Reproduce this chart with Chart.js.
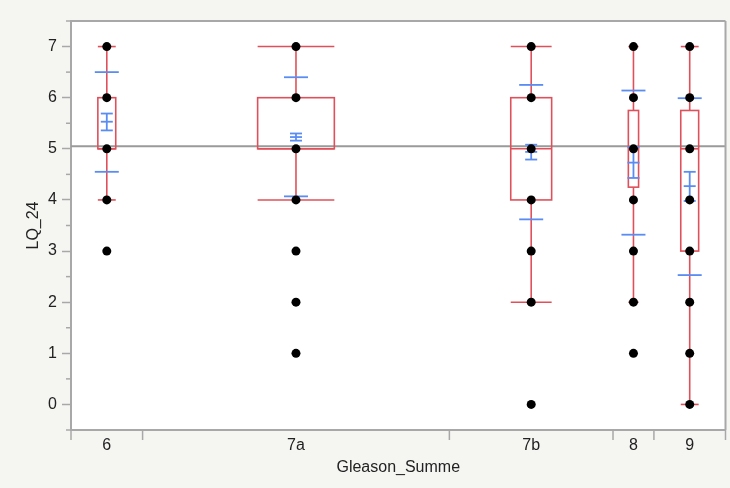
<!DOCTYPE html>
<html>
<head>
<meta charset="utf-8">
<script src="https://cdn.jsdelivr.net/npm/chart.js@4/dist/chart.umd.min.js"></script>
<style>
  body { margin: 0; background: #f5f5f2; }
  #wrap { width: 730px; height: 488px; position: relative; }
</style>
</head>
<body>
<div id="wrap"><canvas id="myChart"></canvas></div>
<script>
let categories = ['6', '7a', '7b', '8', '9'];
let groupN = [14, 60, 32, 8, 14];
let values = [
  [7, 6, 5, 4, 3],
  [7, 6, 5, 4, 3, 2, 1],
  [7, 6, 5, 4, 3, 2, 0],
  [7, 6, 5, 4, 3, 2, 1],
  [7, 6, 5, 4, 3, 2, 1, 0]
];
let q1 = [5, 5, 4, 4.25, 3];
let q3 = [6, 6, 6, 5.75, 5.75];
let median = [5, 5, 5, 5, 5];
let whiskLo = [4, 4, 2, 2, 0];
let whiskHi = [7, 7, 7, 7, 7];
let means = [5.53, 5.23, 4.94, 4.73, 4.27];
let ciLo = [5.36, 5.16, 4.79, 4.43, 3.98];
let ciHi = [5.69, 5.30, 5.08, 5.03, 4.55];
let sdLo = [4.55, 4.07, 3.62, 3.32, 2.53];
let sdHi = [6.50, 6.40, 6.25, 6.14, 5.99];
let grandMean = 5.05;
let yTicks = [0, 1, 2, 3, 4, 5, 6, 7];

let red = '#e0505a';
let blue = '#5a8cf2';
let axisGray = '#a8a8a8';
let font = "'Liberation Sans', Arial, sans-serif";

// group boundaries and centres along the proportional x axis
let bounds = [0];
for (let i = 0; i < groupN.length; i++) bounds.push(bounds[i] + groupN[i]);
let total = bounds[bounds.length - 1];
let centers = groupN.map((n, i) => bounds[i] + n / 2);

let points = [];
for (let i = 0; i < values.length; i++) {
  for (let v of values[i]) points.push({x: centers[i], y: v});
}

function hline(ctx, x1, x2, y) {
  ctx.beginPath(); ctx.moveTo(x1, y); ctx.lineTo(x2, y); ctx.stroke();
}
function vline(ctx, x, y1, y2) {
  ctx.beginPath(); ctx.moveTo(x, y1); ctx.lineTo(x, y2); ctx.stroke();
}

let oneway = {
  id: 'oneway',
  beforeDraw(chart) {
    let {ctx, chartArea: a} = chart;
    ctx.save();
    ctx.fillStyle = '#ffffff';
    ctx.fillRect(a.left, a.top, a.right - a.left, a.bottom - a.top);
    ctx.restore();
  },
  beforeDatasetsDraw(chart) {
    let {ctx, chartArea: a, scales: {x, y}} = chart;
    ctx.save();
    ctx.lineCap = 'butt';
    // grand mean
    ctx.strokeStyle = '#9a9a9a';
    ctx.lineWidth = 2;
    hline(ctx, a.left, a.right, y.getPixelForValue(grandMean));

    for (let i = 0; i < categories.length; i++) {
      let cx = x.getPixelForValue(centers[i]);
      let half = (x.getPixelForValue(bounds[i + 1]) - x.getPixelForValue(bounds[i])) * 0.125;
      ctx.strokeStyle = red;
      ctx.lineWidth = 1.6;
      let top = y.getPixelForValue(q3[i]);
      let bot = y.getPixelForValue(q1[i]);
      ctx.strokeRect(cx - half, top, half * 2, bot - top);
      hline(ctx, cx - half, cx + half, y.getPixelForValue(median[i]));
      vline(ctx, cx, top, y.getPixelForValue(whiskHi[i]));
      vline(ctx, cx, bot, y.getPixelForValue(whiskLo[i]));
      hline(ctx, cx - half, cx + half, y.getPixelForValue(whiskHi[i]));
      hline(ctx, cx - half, cx + half, y.getPixelForValue(whiskLo[i]));

      ctx.strokeStyle = blue;
      ctx.lineWidth = 1.8;
      hline(ctx, cx - 12, cx + 12, y.getPixelForValue(sdHi[i]));
      hline(ctx, cx - 12, cx + 12, y.getPixelForValue(sdLo[i]));
      vline(ctx, cx, y.getPixelForValue(ciHi[i]), y.getPixelForValue(ciLo[i]));
      hline(ctx, cx - 6, cx + 6, y.getPixelForValue(ciHi[i]));
      hline(ctx, cx - 6, cx + 6, y.getPixelForValue(means[i]));
      hline(ctx, cx - 6, cx + 6, y.getPixelForValue(ciLo[i]));
    }
    ctx.restore();
  },
  afterDraw(chart) {
    let {ctx, chartArea: a, scales: {x, y}} = chart;
    ctx.save();
    ctx.strokeStyle = axisGray;
    ctx.lineWidth = 2;
    hline(ctx, a.left, a.right, a.top);
    vline(ctx, a.right, a.top, a.bottom);
    // minor y ticks
    ctx.lineWidth = 1.5;
    for (let v = -0.5; v <= 7.5; v += 1) {
      hline(ctx, a.left - 5, a.left, y.getPixelForValue(v));
    }
    // group boundary ticks
    for (let b of bounds) {
      let px = x.getPixelForValue(b);
      vline(ctx, px, a.bottom, a.bottom + 10);
    }
    ctx.restore();
  }
};

new Chart(document.getElementById('myChart'), {
  type: 'scatter',
  data: {
    datasets: [{
      data: points,
      backgroundColor: '#000000',
      borderWidth: 0,
      pointRadius: 4.5,
      pointHoverRadius: 4.5
    }]
  },
  options: {
    responsive: true,
    maintainAspectRatio: false,
    animation: false,
    layout: {padding: {top: 21, right: 2, left: 0, bottom: 0}},
    plugins: {legend: {display: false}, tooltip: {enabled: false}},
    scales: {
      x: {
        type: 'linear',
        min: 0,
        max: total,
        afterFit: s => { s.height = 58; },
        afterBuildTicks: s => { s.ticks = centers.map(v => ({value: v})); },
        ticks: {
          autoSkip: false,
          maxRotation: 0,
          padding: 6,
          color: '#222',
          font: {family: font, size: 16},
          callback: (v, i) => categories[i]
        },
        grid: {drawOnChartArea: false, drawTicks: false},
        border: {color: axisGray, width: 2},
        title: {
          display: true,
          text: 'Gleason_Summe',
          color: '#222',
          font: {family: font, size: 16},
          padding: {top: 0, bottom: 11}
        }
      },
      y: {
        min: -0.5,
        max: 7.5,
        afterFit: s => { s.width = 71; },
        afterBuildTicks: s => { s.ticks = yTicks.map(v => ({value: v})); },
        ticks: {
          padding: 5,
          color: '#222',
          font: {family: font, size: 16}
        },
        grid: {drawOnChartArea: false, tickLength: 9, tickColor: axisGray, tickWidth: 1.5},
        border: {color: axisGray, width: 2},
        title: {
          display: true,
          text: 'LQ_24',
          color: '#222',
          font: {family: font, size: 16},
          padding: {top: 24, bottom: 0}
        }
      }
    }
  },
  plugins: [oneway]
});
</script>
</body>
</html>
